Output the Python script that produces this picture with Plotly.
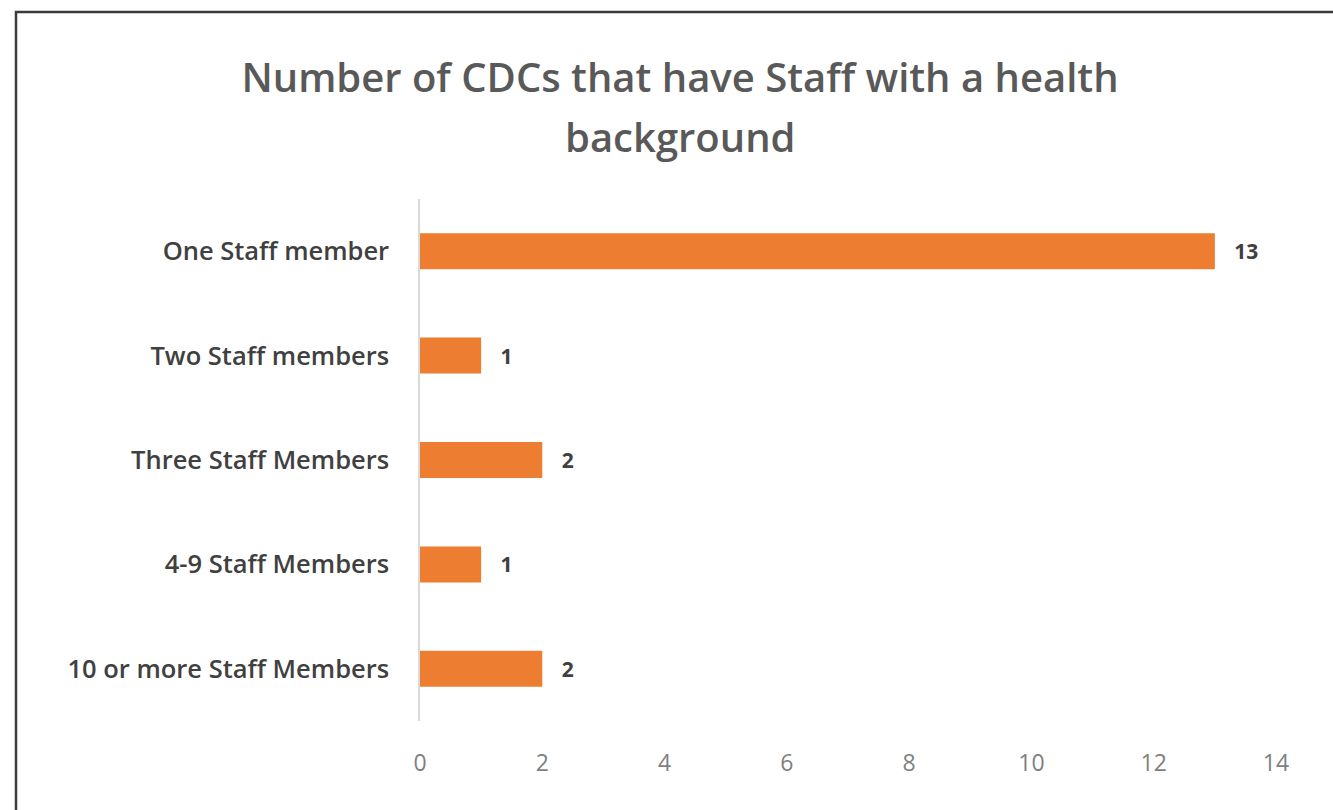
import plotly.graph_objects as go

categories = ["One Staff member", "Two Staff members", "Three Staff Members",
              "4-9 Staff Members", "10 or more Staff Members"]
values = [13, 1, 2, 1, 2]
x_ticks = [0, 2, 4, 6, 8, 10, 12, 14]
title_line1 = "Number of CDCs that have Staff with a health"
title_line2 = "background"

W, H = 1333, 810
ML, MR, MT, MB = 420, 57, 199, 89
PW, PH = W - ML - MR, H - MT - MB

fig = go.Figure(go.Bar(
    x=values, y=categories, orientation="h",
    marker=dict(color="#ED7D31", line=dict(width=0)),
    text=values, texttemplate="   %{x}", textposition="outside", cliponaxis=False,
    textfont=dict(family="Open Sans", size=21, color="#404040", weight=700),
))

# outer frame (decoration), converted from pixels to paper coords
fx0 = (16 - ML) / PW
fx1 = (W + 5 - ML) / PW
fy1 = 1 + (MT - 12) / PH
fy0 = -(MB + 5) / PH
fig.add_shape(type="rect", xref="paper", yref="paper", x0=fx0, x1=fx1, y0=fy0, y1=fy1,
              line=dict(color="#3a3a3a", width=2.5), fillcolor="rgba(0,0,0,0)", layer="above")

title_font = dict(family="Open Sans", size=40, color="#595959", weight=600)
fig.add_annotation(text=title_line2, xref="paper", yref="paper",
                   x=(680 - ML) / PW, y=1 + (MT - 137) / PH,
                   xanchor="center", yanchor="middle", showarrow=False, font=title_font)

fig.update_layout(
    width=W, height=H,
    margin=dict(l=ML, r=MR, t=MT, b=MB),
    paper_bgcolor="white", plot_bgcolor="white",
    bargap=0.655,
    showlegend=False,
    title=dict(text=title_line1, x=680 / W, xanchor="center", y=1 - 78 / H, yanchor="middle",
               font=title_font),
    xaxis=dict(range=[0, 14], tickvals=x_ticks, showgrid=False, zeroline=False,
               showline=False, ticks="outside", ticklen=21, tickcolor="rgba(0,0,0,0)",
               tickfont=dict(family="Open Sans", size=23, color="#7f7f7f")),
    yaxis=dict(autorange="reversed", showgrid=False, zeroline=False,
               showline=True, linecolor="#D9D9D9", linewidth=1.5,
               ticks="outside", ticklen=24, tickcolor="rgba(0,0,0,0)",
               tickfont=dict(family="Open Sans", size=25.5, color="#404040", weight=600)),
)

fig.write_html("out.html")
